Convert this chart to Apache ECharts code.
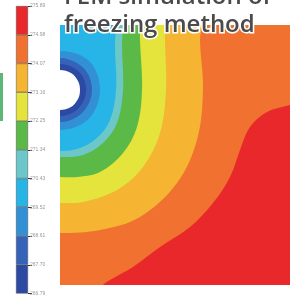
<!DOCTYPE html>
<html>
<head>
<meta charset="utf-8">
<script src="https://cdn.jsdelivr.net/npm/echarts@6/dist/echarts.min.js"></script>
<style>
  html, body { margin: 0; padding: 0; background: #fff; }
  #chart { width: 300px; height: 296px; }
</style>
</head>
<body>
<div id="chart"></div>
<script>
// colour bar, bottom to top
const tickLabels = ['266.79', '267.70', '268.61', '269.52', '270.43', '271.34',
                    '272.25', '273.16', '274.07', '274.98', '275.89'];
const bandColors = ['#2c49a3', '#3463b9', '#3290d4', '#27b4e6', '#6cc7c8',
                    '#5bb947', '#e4e43c', '#f5b431', '#f07130', '#e8282a'];

// contour edges (right half, from top edge down to the left edge)
const redEdge = [[240, 183], [230, 180], [207, 173], [190, 158], [180, 135], [170, 108],
                 [153, 82], [130, 58], [100, 38], [73, 18], [50, 5], [43, 0], [38, -10]];
const orangeYellowEdge = [[142, 290], [142, 260], [140, 245], [143, 195], [137, 145],
                          [117, 102], [80, 68], [40, 55], [0, 52]];
const yellowEdge = [[105, 290], [105, 260], [105, 245], [106, 195], [100, 152],
                    [83, 118], [57, 95], [23, 83], [0, 82]];
const greenEdge = [[80, 290], [80, 260], [80, 245], [82, 195], [77, 158],
                   [63, 132], [40, 113], [17, 108], [0, 108]];
const tealEdge = [[63, 290], [63, 260], [62, 240], [63, 195], [57, 162],
                  [43, 142], [23, 130], [0, 128]];
const cyanEdge = [[56, 290], [56, 260], [55, 240], [56, 195], [50, 165],
                  [38, 148], [20, 137], [0, 134]];
const midBlueEdge = [[0, 234], [22, 229], [35, 216], [40, 195], [35, 175], [22, 161], [0, 155]];
const blueEdge = [[0, 227], [17, 222], [28, 211], [32, 195], [28, 180], [17, 168], [0, 163]];
const navyEdge = [[0, 221], [14, 217], [23, 208], [26, 195], [23, 183], [14, 173], [0, 169]];
const holeEdge = [[0, 215], [11, 212], [18, 204], [20, 195], [18, 186], [11, 178], [0, 175]];

// left edge is a symmetry line: mirror each half contour to get a closed loop
function mirror(edge) {
    const back = edge.slice().reverse().filter(p => p[0] !== 0).map(p => [-p[0], p[1]]);
    return edge.concat(back);
}

const orangeLoop = [[-10, -10], [-10, 300], [240, 300]].concat(redEdge);
const loops = [orangeLoop, mirror(orangeYellowEdge), mirror(yellowEdge), mirror(greenEdge),
               mirror(tealEdge), mirror(cyanEdge), mirror(midBlueEdge), mirror(blueEdge),
               mirror(navyEdge), mirror(holeEdge)];
const loopColors = ['#f07130', '#f5b431', '#e4e43c', '#5bb947', '#6cc7c8',
                    '#27b4e6', '#3290d4', '#3463b9', '#2c49a3', '#ffffff'];

var chart = echarts.init(document.getElementById('chart'));

var cbSeries = bandColors.map(c => ({
    type: 'bar',
    xAxisIndex: 0,
    yAxisIndex: 0,
    stack: 'cb',
    barWidth: '100%',
    data: [1],
    itemStyle: { color: c, borderColor: '#555', borderWidth: 0.5 },
    silent: true
}));

var option = {
    animation: false,
    title: {
        text: 'FEM simulation of\nfreezing method',
        left: 64,
        top: -17,
        padding: 0,
        textStyle: {
            fontFamily: 'Open Sans',
            fontSize: 24,
            fontWeight: 600,
            lineHeight: 28,
            color: '#4a4a4a',
            textBorderColor: '#ffffff',
            textBorderWidth: 3
        }
    },
    graphic: [{
        type: 'rect',
        left: 0,
        top: 73,
        shape: { width: 3, height: 48 },
        style: { fill: '#5cb878' },
        z: 10
    }],
    grid: [
        { left: 16, top: 6, width: 12, height: 288 },
        { left: 60, top: 25, width: 230, height: 260, show: true,
          backgroundColor: '#e8282a', borderWidth: 0 }
    ],
    xAxis: [
        { gridIndex: 0, type: 'category', data: [''], show: false },
        { gridIndex: 1, type: 'value', min: 0, max: 230, show: false }
    ],
    yAxis: [
        { gridIndex: 0, type: 'value', min: 0, max: 10, interval: 1, position: 'right',
          axisLine: { show: false },
          axisTick: { show: true, length: 4, lineStyle: { color: '#333', width: 1 } },
          splitLine: { show: false },
          axisLabel: { fontSize: 5, color: '#999', margin: 2, formatter: v => tickLabels[v] } },
        { gridIndex: 1, type: 'value', min: 0, max: 260, show: false }
    ],
    series: cbSeries.concat([{
        type: 'custom',
        xAxisIndex: 1,
        yAxisIndex: 1,
        clip: true,
        silent: true,
        data: loops.map((l, i) => [i, 0]),
        renderItem: function (params, api) {
            const pts = loops[params.dataIndex].map(p => api.coord(p));
            return {
                type: 'polygon',
                shape: { points: pts, smooth: 0.35 },
                style: { fill: loopColors[params.dataIndex] }
            };
        }
    }])
};
chart.setOption(option);
</script>
</body>
</html>
